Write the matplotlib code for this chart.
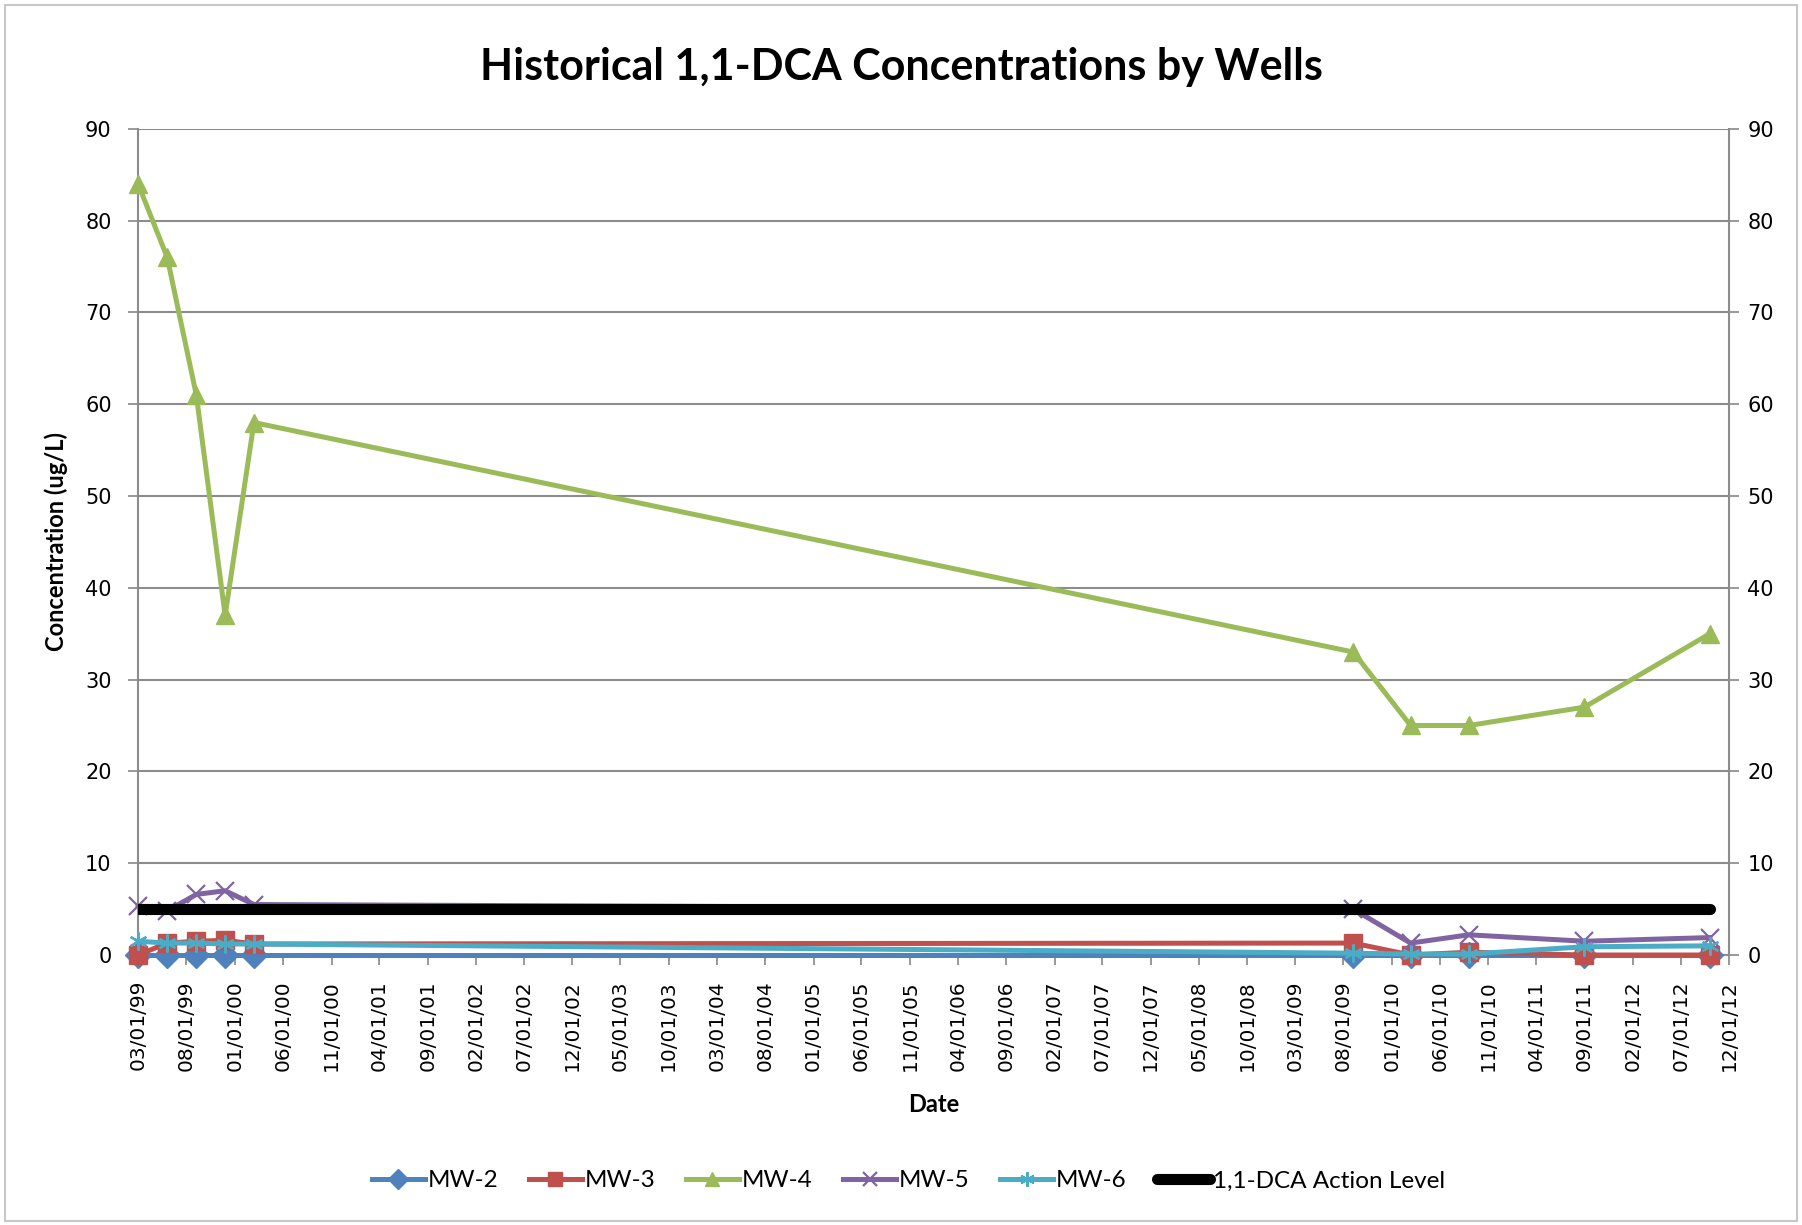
import numpy as np
import pandas as pd
import matplotlib
matplotlib.use('Agg')
import matplotlib.pyplot as plt
import matplotlib.dates as mdates
from matplotlib.patches import Rectangle

# sample dates
dates = pd.to_datetime(['1999-03-01', '1999-06-01', '1999-09-01', '1999-12-01', '2000-03-01',
                        '2009-09-01', '2010-03-01', '2010-09-01', '2011-09-01', '2012-10-01'])

mw2 = [0.0, 0.0, 0.0, 0.0, 0.0, 0.0, 0.0, 0.0, 0.0, 0.0]
mw3 = [0.0, 1.3, 1.5, 1.6, 1.2, 1.3, 0.0, 0.3, 0.0, 0.0]
mw4 = [84, 76, 61, 37, 58, 33, 25, 25, 27, 35]
mw5 = [5.3, 4.8, 6.6, 7.0, 5.5, 5.0, 1.3, 2.2, 1.5, 1.9]
mw6 = [1.5, 1.3, 1.3, 1.2, 1.2, 0.2, 0.1, 0.1, 0.9, 1.0]
action_level = [5] * len(dates)

series_names = ['MW-2', 'MW-3', 'MW-4', 'MW-5', 'MW-6']
series_vals = [mw2, mw3, mw4, mw5, mw6]
colors = ['#4F81BD', '#C0504D', '#9BBB59', '#8064A2', '#4BACC6']
markers = ['D', 's', '^', 'x', (6, 2, 0)]

x_start = pd.Timestamp('1999-03-01')
x_end = pd.Timestamp('2012-12-01')
x_ticks = pd.date_range(x_start, x_end, freq='5MS')

lbl_font = ['Lato', 'DejaVu Sans']

fig = plt.figure(figsize=(18.02, 12.25), dpi=100)
fig.patches.append(Rectangle((0.003, 0.003), 0.994, 0.993, transform=fig.transFigure,
                             fill=False, edgecolor='#c8c8c8', lw=1.5))
ax = fig.add_axes([0.0766, 0.2204, 0.883, 0.6745])

for name, vals, c, m in zip(series_names, series_vals, colors, markers):
    ax.plot(dates, vals, color=c, lw=3.6, marker=m, markersize=13,
            markerfacecolor=c, markeredgecolor=c, markeredgewidth=1.6 if m in ('x', (6, 2, 0)) else 1,
            label=name, zorder=3, clip_on=False)
# action level sits on top of the well lines
ax.plot(dates, action_level, color='black', lw=8, solid_capstyle='round',
        label='1,1-DCA Action Level', zorder=4)

ax.set_xlim(x_start, x_end)
ax.set_ylim(0, 90)
ax.set_yticks(np.arange(0, 91, 10))
ax.set_xticks(x_ticks)
ax.xaxis.set_major_formatter(mdates.DateFormatter('%m/%d/%y'))
ax.tick_params(axis='x', rotation=90, labelsize=14.5, color='#888888', length=7, width=1.2, pad=11)
ax.tick_params(axis='y', labelsize=15, color='#888888', length=7, width=1.2, pad=12)
ax.grid(axis='y', color='#8c8c8c', lw=1.5)
ax.set_axisbelow(True)
ax.spines['top'].set_visible(False)
for s in ['left', 'right', 'bottom']:
    ax.spines[s].set_color('#8c8c8c')
    ax.spines[s].set_linewidth(1.5)

ax2 = ax.twinx()
ax2.set_ylim(0, 90)
ax2.set_yticks(np.arange(0, 91, 10))
ax2.tick_params(axis='y', labelsize=15, color='#888888', length=7, width=1.2, pad=6)
for s in ['top', 'left', 'bottom', 'right']:
    ax2.spines[s].set_visible(False)

ax.set_xlabel('Date', fontsize=17, fontweight='bold', family=lbl_font, labelpad=16)
ax.set_ylabel('Concentration (ug/L)', fontsize=17, fontweight='bold', family=lbl_font, labelpad=12)
fig.suptitle('Historical 1,1-DCA Concentrations by Wells', y=0.962, fontsize=31,
             fontweight='bold', family=lbl_font)

ax.legend(loc='center', bbox_to_anchor=(0.504, 0.036), bbox_transform=fig.transFigure,
          ncol=6, frameon=False, prop={'family': lbl_font, 'size': 17.5},
          handlelength=2.2, handletextpad=0.1, columnspacing=1.25, markerscale=0.8)

fig.savefig('out.png', dpi=100)
